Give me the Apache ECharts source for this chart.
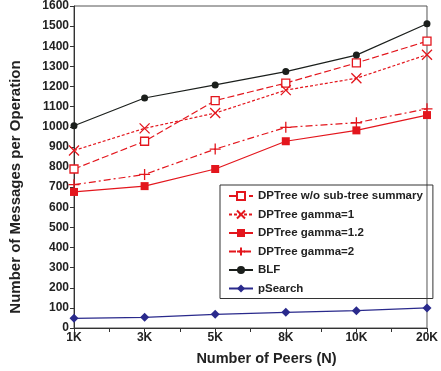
<!DOCTYPE html>
<html>
<head>
<meta charset="utf-8">
<script src="https://cdn.jsdelivr.net/npm/echarts@6/dist/echarts.min.js"></script>
<style>
html, body { margin: 0; padding: 0; background: #fff; }
#chart { width: 441px; height: 371px; }
</style>
</head>
<body>
<div id="chart"></div>
<script>
// peers on the x axis
const peers = ['1K', '3K', '5K', '8K', '10K', '20K'];
const yTicks = [0, 100, 200, 300, 400, 500, 600, 700, 800, 900, 1000, 1100, 1200, 1300, 1400, 1500, 1600];

const dptreeNoSummary = [790, 928, 1130, 1217, 1317, 1425];
const dptreeGamma1 = [882, 992, 1068, 1182, 1241, 1358];
const dptreeGamma12 = [676, 705, 790, 928, 982, 1058];
const dptreeGamma2 = [712, 763, 889, 997, 1020, 1089];
const blf = [1005, 1143, 1208, 1274, 1356, 1512];
const pSearch = [48, 53, 68, 78, 86, 100];

const RED = '#e3161d';
const BLACK = '#1b1f1c';
const NAVY = '#2a2a8c';
const FONT = 'Liberation Sans, Arial, sans-serif';

const xSym = 'path://M0,0L10,10M10,0L0,10';
const plusSym = 'path://M5,0L5,10M0,5L10,5';

function pts(arr) {
    return arr.map((v, i) => [i, v]);
}

let chart = echarts.init(document.getElementById('chart'));
chart.setOption({
    animation: false,
    textStyle: { fontFamily: FONT },
    grid: {
        left: 65, right: 9, top: 6, bottom: 40,
        show: true, borderColor: '#555', borderWidth: 1
    },
    legend: {
        orient: 'vertical',
        left: 220, top: 185,
        padding: [5, 10, 4, 8],
        borderColor: '#333', borderWidth: 1,
        itemWidth: 24, itemHeight: 10, itemGap: 6.5,
        textStyle: { fontSize: 11.5, fontWeight: 'bold', color: '#222', fontFamily: FONT },
        data: ['DPTree w/o sub-tree summary', 'DPTree gamma=1', 'DPTree gamma=1.2', 'DPTree gamma=2', 'BLF', 'pSearch']
    },
    xAxis: {
        type: 'value', min: 0, max: peers.length - 1, interval: 0.5,
        name: 'Number of Peers (N)', nameLocation: 'center', nameGap: 23,
        nameTextStyle: { fontSize: 14.5, fontWeight: 'bold', color: '#222', padding: [0, 0, 0, 32] },
        axisLine: { lineStyle: { color: '#333' } },
        axisTick: { inside: false, length: 4, lineStyle: { color: '#333' } },
        splitLine: { show: false },
        axisLabel: {
            margin: 4, fontSize: 12, fontWeight: 'bold', color: '#222',
            formatter: v => Number.isInteger(v) ? peers[v] : ''
        }
    },
    yAxis: {
        type: 'value', min: yTicks[0], max: yTicks[yTicks.length - 1], interval: 100,
        name: 'Number of Messages per Operation', nameLocation: 'center', nameGap: 51,
        nameTextStyle: { fontSize: 15, fontWeight: 'bold', color: '#222', padding: [0, 40, 0, 0] },
        axisLine: { show: true, lineStyle: { color: '#333' } },
        axisTick: { show: true, length: 4, lineStyle: { color: '#333' } },
        splitLine: { show: false },
        axisLabel: { margin: 5, fontSize: 12, fontWeight: 'bold', color: '#222', formatter: v => String(v) }
    },
    series: [
        {
            name: 'DPTree w/o sub-tree summary', type: 'line', data: pts(dptreeNoSummary),
            symbol: 'rect', symbolSize: 8,
            lineStyle: { color: RED, width: 1.2, type: [7, 3] },
            itemStyle: { color: '#fff', borderColor: RED, borderWidth: 1.3 }
        },
        {
            name: 'DPTree gamma=1', type: 'line', data: pts(dptreeGamma1),
            symbol: xSym, symbolSize: 10,
            lineStyle: { color: RED, width: 1.2, type: [3, 2] },
            itemStyle: { color: RED, borderColor: RED, borderWidth: 1.3 }
        },
        {
            name: 'DPTree gamma=1.2', type: 'line', data: pts(dptreeGamma12),
            symbol: 'rect', symbolSize: 8,
            lineStyle: { color: RED, width: 1.2 },
            itemStyle: { color: RED }
        },
        {
            name: 'DPTree gamma=2', type: 'line', data: pts(dptreeGamma2),
            symbol: plusSym, symbolSize: 11,
            lineStyle: { color: RED, width: 1.2, type: [7, 3, 2, 3] },
            itemStyle: { color: RED, borderColor: RED, borderWidth: 1.3 }
        },
        {
            name: 'BLF', type: 'line', data: pts(blf),
            symbol: 'circle', symbolSize: 7,
            lineStyle: { color: BLACK, width: 1.2 },
            itemStyle: { color: BLACK }
        },
        {
            name: 'pSearch', type: 'line', data: pts(pSearch),
            symbol: 'diamond', symbolSize: 9,
            lineStyle: { color: NAVY, width: 1.2 },
            itemStyle: { color: NAVY }
        }
    ]
});
</script>
</body>
</html>
